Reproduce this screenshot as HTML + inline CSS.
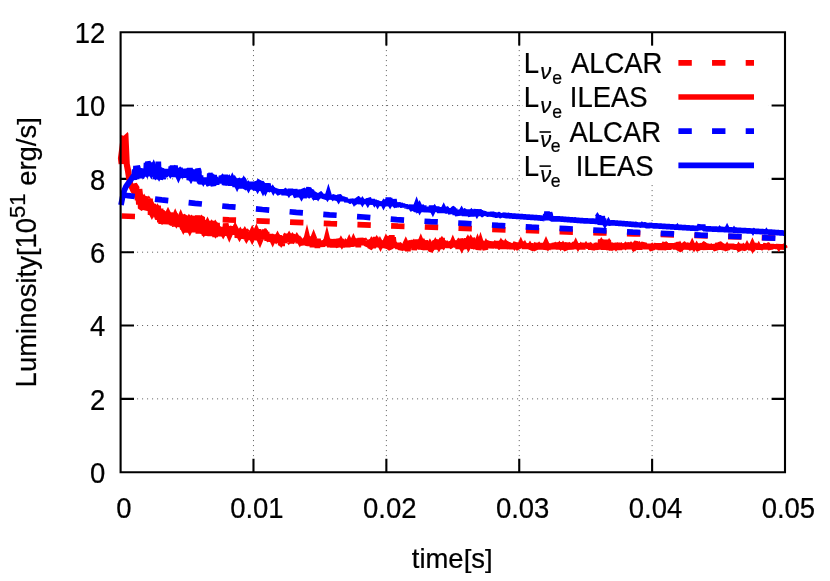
<!DOCTYPE html>
<html><head><meta charset="utf-8"><title>Luminosity</title>
<style>html,body{margin:0;padding:0;background:#fff}svg{display:block;will-change:transform}</style></head>
<body>
<svg width="830" height="581" viewBox="0 0 830 581">
<rect width="830" height="581" fill="#fff"/>
<g stroke="#000" stroke-opacity="0.62" stroke-width="1" stroke-dasharray="1.05 3.95" fill="none">
<path d="M253.48,472.20 V32.20" stroke-dashoffset="-1.1"/>
<path d="M386.36,472.20 V32.20" stroke-dashoffset="-1.1"/>
<path d="M519.24,472.20 V32.20" stroke-dashoffset="-1.1"/>
<path d="M652.12,472.20 V32.20" stroke-dashoffset="-1.1"/>
<path d="M120.60,398.87 H785.00" stroke-dashoffset="-1.45"/>
<path d="M120.60,325.53 H785.00" stroke-dashoffset="-1.45"/>
<path d="M120.60,252.20 H785.00" stroke-dashoffset="-1.45"/>
<path d="M120.60,178.87 H785.00" stroke-dashoffset="-1.45"/>
<path d="M120.60,105.53 H785.00" stroke-dashoffset="-1.45"/>
</g>
<g stroke="#000" stroke-width="2.1" fill="none" stroke-linecap="butt">
<path d="M253.48,472.20 v-13.40 M253.48,32.20 v13.40"/>
<path d="M386.36,472.20 v-13.40 M386.36,32.20 v13.40"/>
<path d="M519.24,472.20 v-13.40 M519.24,32.20 v13.40"/>
<path d="M652.12,472.20 v-13.40 M652.12,32.20 v13.40"/>
<path d="M120.60,398.87 h13.40 M785.00,398.87 h-13.40"/>
<path d="M120.60,325.53 h13.40 M785.00,325.53 h-13.40"/>
<path d="M120.60,252.20 h13.40 M785.00,252.20 h-13.40"/>
<path d="M120.60,178.87 h13.40 M785.00,178.87 h-13.40"/>
<path d="M120.60,105.53 h13.40 M785.00,105.53 h-13.40"/>
</g>
<g fill="none" stroke-width="5.70" stroke-linejoin="bevel" stroke-linecap="butt">
<path d="M121.6,216.0 L229.0,219.9 L263.0,221.1 L296.5,222.3 L330.5,223.6 L364.3,224.8 L398.0,226.1 L431.7,227.2 L465.4,228.4 L499.0,229.6 L532.6,230.7 L566.4,231.9 L600.2,232.8 L634.0,233.8 L667.5,234.7 L730.0,236.6 L785.3,238.3" stroke="#f00" stroke-dasharray="13.4 20.31"/>
<path d="M134.5,190.5 L136.0,191.5 L137.0,192.5 L137.6,200.2 L138.2,195.0 L138.9,204.6 L139.5,189.0 L140.1,193.8 L140.7,208.3 L141.3,208.1 L142.0,197.6 L142.6,201.3 L143.2,204.5 L143.8,196.1 L144.4,205.9 L145.1,196.5 L145.7,209.9 L146.3,208.9 L146.9,199.1 L147.5,210.1 L148.2,199.1 L148.8,205.7 L149.4,208.5 L150.0,198.5 L150.6,214.9 L151.3,204.0 L151.9,210.4 L152.5,210.2 L153.1,204.1 L153.7,210.5 L154.4,209.6 L155.0,215.3 L155.6,208.4 L156.2,217.2 L156.8,211.0 L157.5,219.0 L158.1,205.6 L158.7,215.9 L159.3,209.8 L159.9,222.4 L160.6,208.5 L161.2,224.0 L161.8,210.2 L162.4,217.0 L163.0,211.9 L163.7,224.0 L164.3,216.5 L164.9,211.5 L165.5,224.2 L166.1,215.9 L166.8,224.0 L167.4,211.8 L168.0,224.4 L168.6,213.2 L169.2,219.0 L169.9,222.6 L170.5,212.6 L171.1,217.9 L171.7,224.9 L172.3,221.7 L173.0,225.4 L173.6,218.6 L174.2,224.5 L174.8,226.1 L175.4,215.2 L176.1,215.6 L176.7,224.1 L177.3,216.1 L177.9,226.6 L178.5,224.7 L179.2,218.6 L179.8,222.3 L180.4,216.2 L181.0,226.5 L181.6,216.6 L182.3,226.9 L182.9,229.0 L183.5,223.4 L184.1,227.5 L184.7,216.7 L185.4,216.4 L186.0,221.0 L186.6,232.5 L187.2,218.6 L187.8,217.2 L188.5,232.3 L189.1,227.2 L189.7,220.5 L190.3,221.1 L190.9,230.6 L191.6,225.0 L192.2,230.1 L192.8,221.9 L193.4,228.1 L194.0,218.8 L194.7,232.3 L195.3,224.0 L195.9,220.5 L196.5,227.6 L197.1,230.8 L197.8,215.4 L198.4,233.6 L199.0,218.1 L199.6,228.7 L200.2,230.0 L200.9,216.3 L201.5,233.5 L202.1,217.0 L202.7,228.0 L203.3,233.7 L204.0,222.5 L204.6,235.7 L205.2,231.2 L205.8,227.7 L206.4,233.3 L207.1,221.7 L207.7,227.0 L208.3,225.6 L208.9,235.7 L209.5,223.1 L210.2,236.2 L210.8,224.6 L211.4,222.0 L212.0,229.1 L212.6,220.9 L213.3,230.6 L213.9,225.5 L214.5,222.1 L215.1,237.2 L215.7,223.5 L216.4,231.5 L217.0,223.0 L217.6,233.7 L218.2,227.1 L218.8,229.0 L219.5,233.6 L220.1,227.0 L220.7,236.4 L221.3,227.6 L221.9,235.5 L222.6,227.0 L223.2,233.6 L223.8,235.4 L224.4,229.2 L225.0,231.0 L225.7,223.5 L226.3,226.6 L226.9,235.6 L227.5,232.2 L228.1,231.6 L228.8,233.8 L229.4,233.0 L230.0,228.5 L230.6,226.6 L231.2,230.6 L231.9,227.9 L232.5,227.0 L233.1,232.1 L233.7,226.3 L234.3,234.8 L235.0,227.9 L235.6,233.5 L236.2,230.5 L236.8,228.4 L237.4,237.9 L238.1,230.6 L238.7,235.0 L239.3,233.7 L239.9,234.6 L240.5,230.2 L241.2,238.8 L241.8,232.2 L242.4,236.0 L243.0,230.1 L243.6,233.3 L244.3,229.2 L244.9,235.0 L245.5,231.2 L246.1,239.0 L246.7,231.9 L247.4,235.5 L248.0,239.6 L248.6,232.1 L249.2,237.8 L249.8,232.2 L250.5,235.2 L251.1,239.9 L251.7,231.0 L252.3,234.3 L252.9,238.8 L253.6,231.5 L254.2,236.0 L254.8,233.7 L255.4,239.6 L256.0,232.6 L256.7,239.2 L257.3,229.3 L257.9,240.4 L258.5,229.2 L259.1,238.7 L259.8,230.8 L260.4,239.5 L261.0,232.8 L261.6,239.1 L262.2,234.8 L262.9,237.1 L263.5,238.3 L264.1,235.2 L264.7,231.2 L265.3,231.2 L266.0,237.4 L266.6,232.0 L267.2,240.7 L267.8,235.5 L268.4,238.3 L269.1,234.0 L269.7,241.4 L270.3,239.4 L270.9,237.6 L271.5,240.6 L272.2,235.5 L272.8,241.9 L273.4,234.5 L274.0,240.9 L274.6,236.1 L275.3,242.6 L275.9,239.8 L276.5,238.3 L277.1,234.6 L277.7,242.3 L278.4,235.3 L279.0,242.7 L279.6,236.9 L280.2,237.6 L280.8,245.3 L281.5,238.2 L282.1,246.1 L282.7,236.6 L283.3,239.3 L283.9,237.5 L284.6,243.1 L285.2,236.3 L285.8,239.3 L286.4,233.8 L287.0,241.4 L287.7,237.3 L288.3,238.0 L288.9,241.4 L289.5,236.9 L290.1,240.9 L290.8,234.5 L291.4,243.5 L292.0,236.1 L292.6,234.4 L293.2,240.4 L293.9,236.3 L294.5,240.8 L295.1,238.1 L295.7,240.1 L296.3,238.0 L297.0,241.1 L297.6,235.9 L298.2,243.2 L298.8,238.5 L299.4,239.1 L300.1,242.5 L300.7,241.2 L301.3,241.5 L301.9,240.8 L302.5,243.3 L303.2,244.7 L303.8,238.9 L304.4,245.2 L305.0,240.0 L305.6,242.3 L306.3,239.5 L306.9,245.2 L307.5,239.9 L308.1,245.6 L308.7,238.2 L309.4,245.9 L310.0,237.6 L310.6,238.3 L311.2,243.8 L311.8,242.1 L312.5,247.1 L313.1,238.2 L313.7,242.4 L314.3,245.8 L314.9,239.9 L315.6,242.1 L316.2,245.7 L316.8,239.1 L317.4,248.1 L318.0,238.8 L318.7,246.7 L319.3,240.8 L319.9,245.7 L320.5,241.5 L321.1,242.5 L321.8,244.0 L322.4,246.6 L323.0,241.5 L323.6,245.7 L324.2,241.3 L324.9,244.7 L325.5,241.6 L326.1,239.8 L326.7,242.3 L327.3,245.9 L328.0,239.9 L328.6,244.7 L329.2,240.7 L329.8,247.3 L330.4,240.8 L331.1,246.9 L331.7,239.5 L332.3,241.7 L332.9,247.4 L333.5,241.8 L334.2,244.4 L334.8,239.6 L335.4,244.0 L336.0,244.7 L336.6,239.3 L337.3,241.2 L337.9,245.8 L338.5,246.9 L339.1,238.6 L339.7,245.4 L340.4,240.9 L341.0,244.4 L341.6,239.0 L342.2,247.4 L342.8,241.8 L343.5,247.0 L344.1,240.8 L344.7,246.9 L345.3,242.5 L345.9,243.6 L346.6,244.5 L347.2,242.7 L347.8,246.9 L348.4,244.0 L349.0,240.0 L349.7,246.4 L350.3,240.2 L350.9,246.7 L351.5,241.8 L352.1,243.8 L352.8,239.3 L353.4,243.6 L354.0,238.9 L354.6,245.5 L355.2,242.7 L355.9,244.2 L356.5,245.6 L357.1,238.6 L357.7,241.2 L358.3,247.3 L359.0,238.4 L359.6,244.8 L360.2,238.1 L360.8,245.2 L361.4,238.3 L362.1,242.0 L362.7,238.3 L363.3,243.5 L363.9,241.2 L364.5,243.3 L365.2,243.3 L365.8,243.6 L366.4,242.4 L367.0,245.7 L367.6,241.9 L368.3,246.5 L368.9,245.1 L369.5,240.2 L370.1,247.7 L370.7,247.4 L371.4,239.5 L372.0,247.7 L372.6,242.4 L373.2,247.6 L373.8,245.7 L374.5,237.8 L375.1,247.3 L375.7,237.0 L376.3,245.4 L376.9,239.4 L377.6,247.0 L378.2,240.7 L378.8,244.6 L379.4,246.9 L380.0,242.8 L380.7,240.7 L381.3,246.1 L381.9,247.5 L382.5,241.6 L383.1,245.9 L383.8,247.0 L384.4,241.1 L385.0,247.5 L385.6,246.7 L386.2,241.8 L386.9,247.5 L387.5,239.0 L388.1,243.2 L388.7,245.1 L389.3,235.9 L390.0,248.1 L390.6,248.5 L391.2,243.4 L391.8,235.3 L392.4,244.7 L393.1,237.2 L393.7,242.5 L394.3,242.8 L394.9,246.6 L395.5,245.5 L396.2,246.7 L396.8,244.2 L397.4,243.2 L398.0,249.0 L398.6,242.9 L399.3,248.9 L399.9,243.5 L400.5,249.6 L401.1,248.6 L401.7,245.1 L402.4,249.4 L403.0,244.2 L403.6,247.8 L404.2,249.4 L404.8,244.4 L405.5,248.3 L406.1,242.1 L406.7,250.5 L407.3,241.9 L407.9,251.2 L408.6,243.8 L409.2,246.3 L409.8,243.4 L410.4,247.1 L411.0,240.5 L411.7,248.1 L412.3,240.9 L412.9,246.8 L413.5,239.9 L414.1,250.2 L414.8,240.2 L415.4,245.1 L416.0,240.2 L416.6,241.8 L417.2,248.7 L417.9,239.5 L418.5,248.6 L419.1,244.5 L419.7,242.0 L420.3,249.6 L421.0,241.1 L421.6,249.3 L422.2,247.9 L422.8,244.5 L423.4,249.1 L424.1,244.8 L424.7,248.8 L425.3,240.4 L425.9,244.9 L426.5,246.8 L427.2,249.6 L427.8,242.3 L428.4,249.9 L429.0,243.4 L429.6,242.6 L430.3,249.1 L430.9,249.8 L431.5,249.7 L432.1,243.1 L432.7,248.3 L433.4,246.2 L434.0,244.4 L434.6,241.3 L435.2,241.6 L435.8,249.5 L436.5,244.2 L437.1,248.1 L437.7,239.4 L438.3,243.9 L438.9,246.5 L439.6,239.5 L440.2,248.3 L440.8,241.2 L441.4,249.1 L442.0,237.9 L442.7,247.0 L443.3,240.4 L443.9,247.0 L444.5,241.8 L445.1,246.4 L445.8,244.3 L446.4,247.3 L447.0,242.8 L447.6,245.9 L448.2,246.9 L448.9,245.5 L449.5,242.5 L450.1,243.0 L450.7,246.3 L451.3,246.4 L452.0,242.4 L452.6,243.5 L453.2,245.7 L453.8,243.6 L454.4,246.5 L455.1,241.8 L455.7,247.2 L456.3,241.6 L456.9,247.4 L457.5,240.4 L458.2,248.9 L458.8,244.5 L459.4,246.3 L460.0,248.0 L460.6,238.9 L461.3,241.3 L461.9,240.1 L462.5,249.2 L463.1,245.0 L463.7,248.9 L464.4,241.1 L465.0,243.9 L465.6,248.3 L466.2,241.2 L466.8,238.5 L467.5,248.5 L468.1,244.1 L468.7,239.0 L469.3,237.7 L469.9,243.9 L470.6,241.3 L471.2,247.2 L471.8,244.1 L472.4,238.5 L473.0,239.6 L473.7,248.9 L474.3,243.3 L474.9,244.4 L475.5,246.8 L476.1,247.0 L476.8,242.3 L477.4,249.2 L478.0,243.8 L478.6,249.6 L479.2,247.8 L479.9,242.5 L480.5,246.7 L481.1,242.2 L481.7,246.6 L482.3,242.5 L483.0,242.1 L483.6,249.2 L484.2,243.5 L484.8,248.3 L485.4,249.6 L486.1,242.1 L486.7,247.3 L487.3,242.6 L487.9,242.3 L488.5,245.8 L489.2,242.9 L489.8,242.4 L490.4,248.0 L491.0,242.8 L491.6,248.3 L492.3,243.6 L492.9,242.0 L493.5,246.5 L494.1,244.2 L494.7,245.9 L495.4,242.2 L496.0,247.7 L496.6,246.0 L497.2,241.1 L497.8,248.5 L498.5,242.2 L499.1,247.2 L499.7,247.3 L500.3,241.5 L500.9,248.9 L501.6,242.4 L502.2,242.0 L502.8,241.7 L503.4,247.5 L504.0,244.3 L504.7,248.8 L505.3,242.1 L505.9,247.4 L506.5,242.8 L507.1,242.5 L507.8,248.9 L508.4,242.9 L509.0,245.2 L509.6,249.0 L510.2,243.6 L510.9,246.2 L511.5,244.0 L512.1,246.1 L512.7,244.0 L513.3,249.0 L514.0,245.6 L514.6,248.4 L515.2,243.9 L515.8,243.2 L516.4,247.2 L517.1,243.5 L517.7,247.9 L518.3,248.2 L518.9,243.8 L519.5,246.3 L520.2,243.3 L520.8,247.6 L521.4,243.8 L522.0,246.8 L522.6,245.7 L523.3,244.0 L523.9,244.0 L524.5,248.8 L525.1,243.6 L525.7,248.9 L526.4,243.6 L527.0,248.7 L527.6,246.2 L528.2,246.8 L528.8,243.8 L529.5,247.5 L530.1,243.4 L530.7,249.0 L531.3,248.5 L531.9,244.7 L532.6,248.7 L533.2,245.6 L533.8,247.1 L534.4,245.4 L535.0,248.8 L535.7,249.3 L536.3,242.9 L536.9,248.2 L537.5,243.2 L538.1,249.4 L538.8,244.0 L539.4,248.9 L540.0,243.8 L540.6,247.4 L541.2,244.6 L541.9,249.2 L542.5,243.0 L543.1,248.6 L543.7,245.3 L544.3,248.9 L545.0,243.0 L545.6,249.4 L546.2,248.0 L546.8,245.9 L547.4,244.5 L548.1,249.1 L548.7,247.7 L549.3,245.5 L549.9,247.8 L550.5,243.7 L551.2,249.3 L551.8,243.5 L552.4,249.0 L553.0,243.6 L553.6,249.2 L554.3,243.1 L554.9,248.8 L555.5,242.9 L556.1,247.5 L556.7,244.5 L557.4,248.7 L558.0,242.6 L558.6,249.5 L559.2,243.9 L559.8,249.0 L560.5,242.3 L561.1,246.5 L561.7,242.7 L562.3,249.3 L562.9,247.9 L563.6,242.8 L564.2,246.2 L564.8,243.9 L565.4,248.7 L566.0,249.1 L566.7,245.4 L567.3,246.5 L567.9,242.8 L568.5,249.0 L569.1,246.0 L569.8,249.3 L570.4,244.7 L571.0,249.5 L571.6,243.7 L572.2,248.5 L572.9,244.3 L573.5,244.3 L574.1,246.4 L574.7,248.9 L575.3,243.6 L576.0,247.7 L576.6,246.5 L577.2,243.3 L577.8,248.5 L578.4,243.8 L579.1,247.5 L579.7,243.5 L580.3,249.0 L580.9,244.3 L581.5,249.5 L582.2,243.4 L582.8,249.4 L583.4,245.3 L584.0,243.3 L584.6,247.0 L585.3,243.4 L585.9,247.3 L586.5,244.9 L587.1,247.7 L587.7,243.4 L588.4,245.4 L589.0,248.3 L589.6,244.7 L590.2,245.3 L590.8,249.6 L591.5,244.4 L592.1,249.5 L592.7,248.2 L593.3,246.0 L593.9,247.8 L594.6,244.3 L595.2,245.8 L595.8,249.7 L596.4,242.9 L597.0,249.2 L597.7,246.2 L598.3,249.1 L598.9,244.2 L599.5,248.9 L600.1,246.1 L600.8,239.5 L601.4,247.5 L602.0,244.3 L602.6,247.0 L603.2,242.7 L603.9,249.8 L604.5,243.9 L605.1,248.3 L605.7,239.8 L606.3,247.9 L607.0,241.5 L607.6,249.6 L608.2,240.0 L608.8,250.0 L609.4,245.8 L610.1,249.5 L610.7,248.6 L611.3,249.4 L611.9,244.3 L612.5,247.4 L613.2,243.2 L613.8,248.0 L614.4,249.3 L615.0,247.1 L615.6,248.8 L616.3,244.9 L616.9,249.8 L617.5,242.8 L618.1,249.1 L618.7,243.1 L619.4,249.8 L620.0,245.9 L620.6,243.7 L621.2,247.3 L621.8,249.0 L622.5,245.2 L623.1,246.2 L623.7,245.9 L624.3,247.7 L624.9,245.7 L625.6,248.3 L626.2,243.3 L626.8,244.4 L627.4,249.1 L628.0,243.3 L628.7,246.7 L629.3,242.7 L629.9,247.6 L630.5,244.9 L631.1,247.9 L631.8,242.8 L632.4,249.2 L633.0,242.7 L633.6,249.0 L634.2,248.5 L634.9,249.5 L635.5,243.3 L636.1,242.9 L636.7,243.7 L637.3,249.5 L638.0,244.8 L638.6,249.4 L639.2,246.0 L639.8,249.6 L640.4,246.3 L641.1,248.1 L641.7,244.6 L642.3,244.5 L642.9,247.1 L643.5,244.1 L644.2,243.0 L644.8,247.9 L645.4,244.7 L646.0,249.1 L646.6,244.5 L647.3,248.6 L647.9,244.6 L648.5,248.3 L649.1,246.0 L649.7,244.0 L650.4,247.7 L651.0,247.7 L651.6,249.0 L652.2,249.7 L652.8,244.2 L653.5,247.3 L654.1,246.8 L654.7,245.4 L655.3,246.5 L655.9,245.8 L656.6,243.5 L657.2,248.9 L657.8,245.8 L658.4,249.4 L659.0,243.2 L659.7,247.5 L660.3,249.5 L660.9,245.7 L661.5,244.4 L662.1,247.5 L662.8,243.8 L663.4,249.8 L664.0,247.2 L664.6,243.3 L665.2,243.9 L665.9,244.7 L666.5,243.2 L667.1,249.5 L667.7,245.9 L668.3,249.6 L669.0,244.1 L669.6,249.2 L670.2,244.8 L670.8,248.3 L671.4,243.4 L672.1,248.0 L672.7,243.4 L673.3,246.8 L673.9,243.9 L674.5,246.6 L675.2,245.2 L675.8,249.3 L676.4,243.4 L677.0,244.1 L677.6,249.0 L678.3,248.7 L678.9,243.8 L679.5,249.5 L680.1,249.4 L680.7,249.4 L681.4,245.0 L682.0,246.9 L682.6,245.3 L683.2,248.9 L683.8,244.0 L684.5,244.1 L685.1,249.4 L685.7,245.0 L686.3,249.1 L686.9,246.0 L687.6,249.0 L688.2,247.4 L688.8,244.7 L689.4,243.4 L690.0,249.8 L690.7,244.0 L691.3,248.1 L691.9,247.1 L692.5,243.4 L693.1,248.9 L693.8,244.3 L694.4,248.1 L695.0,246.8 L695.6,246.6 L696.2,247.5 L696.9,248.0 L697.5,243.6 L698.1,249.1 L698.7,249.5 L699.3,244.0 L700.0,249.6 L700.6,245.7 L701.2,249.5 L701.8,245.3 L702.4,244.2 L703.1,248.0 L703.7,244.0 L704.3,243.9 L704.9,246.6 L705.5,249.7 L706.2,245.0 L706.8,244.0 L707.4,249.3 L708.0,244.0 L708.6,249.6 L709.3,244.9 L709.9,247.8 L710.5,244.6 L711.1,249.5 L711.7,245.1 L712.4,247.5 L713.0,246.1 L713.6,246.9 L714.2,244.6 L714.8,246.2 L715.5,249.0 L716.1,249.6 L716.7,245.7 L717.3,249.6 L717.9,243.9 L718.6,244.4 L719.2,245.4 L719.8,249.7 L720.4,244.0 L721.0,244.0 L721.7,249.2 L722.3,248.2 L722.9,246.6 L723.5,244.9 L724.1,249.0 L724.8,245.7 L725.4,249.1 L726.0,244.8 L726.6,249.0 L727.2,249.7 L727.9,244.0 L728.5,248.6 L729.1,244.2 L729.7,249.1 L730.3,244.9 L731.0,247.9 L731.6,244.0 L732.2,247.0 L732.8,248.4 L733.4,244.5 L734.1,249.1 L734.7,245.3 L735.3,249.2 L735.9,245.0 L736.5,249.7 L737.2,244.3 L737.8,247.7 L738.4,246.2 L739.0,249.3 L739.6,249.6 L740.3,246.1 L740.9,244.4 L741.5,247.7 L742.1,244.0 L742.7,249.7 L743.4,248.6 L744.0,245.4 L744.6,247.1 L745.2,245.2 L745.8,247.9 L746.5,248.1 L747.1,246.5 L747.7,247.8 L748.3,245.8 L748.9,248.9 L749.6,244.1 L750.2,247.9 L750.8,249.6 L751.4,245.5 L752.0,249.6 L752.7,249.2 L753.3,248.6 L753.9,244.2 L754.5,245.1 L755.1,244.1 L755.8,248.8 L756.4,244.8 L757.0,245.5 L757.6,248.8 L758.2,244.6 L758.9,249.6 L759.5,244.2 L760.1,249.5 L760.7,244.2 L761.3,248.5 L762.0,244.7 L762.6,247.5 L763.2,245.2 L763.8,246.9 L764.4,245.6 L765.1,249.3 L765.7,245.2 L766.3,244.1 L766.9,249.1 L767.5,244.8 L768.2,245.2 L768.8,247.3 L769.4,245.0 L770.0,247.9 L770.6,249.2 L771.3,244.1 L771.9,248.5 L772.5,244.6 L773.1,247.1 L773.7,246.1 L774.4,247.8 L775.0,244.3 L775.6,248.4 L776.2,245.9 L776.8,246.5 L777.5,248.1 L778.1,246.7 L778.7,244.5 L779.3,248.0 L779.9,244.4 L780.6,248.6 L781.2,244.5 L781.8,249.5 L782.4,244.5 L783.0,249.3 L783.7,246.4 L784.3,246.3 L784.9,248.4" stroke="#f00"/>
<path d="M164.6,213.8 L168.0,206.7 L171.4,213.8 Z M171.5,216.4 L175.2,208.3 L178.9,216.4 Z M176.9,218.1 L180.7,208.9 L184.5,218.1 Z M248.5,232.8 L252.2,224.7 L255.9,232.8 Z M252.7,231.6 L256.4,223.5 L260.1,231.6 Z M263.2,233.1 L266.0,228.0 L268.8,233.1 Z M274.4,236.4 L277.5,230.4 L280.6,236.4 Z M303.2,239.8 L307.0,224.1 L310.8,239.8 Z M309.8,238.7 L313.6,229.1 L317.4,238.7 Z M323.1,241.1 L326.9,225.5 L330.7,241.1 Z M345.7,241.5 L349.2,233.9 L352.7,241.5 Z M349.8,240.9 L353.4,233.0 L357.0,240.9 Z M377.0,241.4 L379.9,236.1 L382.8,241.4 Z M382.2,241.4 L385.9,233.3 L389.6,241.4 Z M402.4,243.4 L405.8,236.3 L409.2,243.4 Z M417.0,242.4 L420.8,233.3 L424.6,242.4 Z M432.1,243.2 L435.3,236.9 L438.5,243.2 Z M439.3,239.8 L441.9,235.7 L444.5,239.8 Z M449.0,243.5 L452.8,234.5 L456.6,243.5 Z M473.7,243.4 L477.5,233.3 L481.3,243.4 Z M476.7,243.8 L480.5,231.7 L484.3,243.8 Z M482.8,244.1 L485.9,238.1 L489.0,244.1 Z M517.0,245.0 L520.8,236.6 L524.6,245.0 Z M542.2,244.6 L546.0,236.0 L549.8,244.6 Z M572.1,244.9 L575.7,237.2 L579.3,244.9 Z M628.6,244.6 L631.0,241.0 L633.4,244.6 Z M660.5,245.0 L663.0,241.0 L665.5,245.0 Z M677.3,245.1 L680.0,240.4 L682.7,245.1 Z M688.7,245.2 L692.2,237.6 L695.7,245.2 Z M724.5,245.6 L727.1,241.4 L729.7,245.6 Z M735.9,245.7 L738.5,241.4 L741.1,245.7 Z M741.1,245.7 L743.4,242.4 L745.7,245.7 Z M748.6,245.7 L752.4,237.2 L756.2,245.7 Z M527.4,244.8 L530.0,240.6 L532.6,244.8 Z M560.5,244.2 L563.0,240.4 L565.5,244.2 Z M583.5,244.9 L586.0,240.8 L588.5,244.9 Z M713.6,245.6 L716.0,242.0 L718.4,245.6 Z M765.5,245.7 L768.0,241.8 L770.5,245.7 Z M301.2,240.3 L303.5,237.2 L305.7,240.3 Z M328.6,241.1 L330.9,238.2 L333.1,241.1 Z M338.1,240.5 L340.9,235.3 L343.8,240.5 Z M343.0,242.2 L345.5,238.1 L348.1,242.2 Z M363.7,240.2 L365.9,237.3 L368.1,240.2 Z M368.4,241.5 L371.3,236.1 L374.2,241.5 Z M373.6,240.6 L376.7,234.8 L379.7,240.6 Z M398.3,244.8 L400.4,242.0 L402.6,244.8 Z M407.8,242.3 L410.0,239.7 L412.1,242.3 Z M411.6,241.8 L413.9,238.5 L416.2,241.8 Z M420.9,243.6 L423.9,237.8 L427.0,243.6 Z M426.8,244.0 L429.9,238.2 L432.9,244.0 Z M444.8,243.1 L447.1,239.9 L449.4,243.1 Z M456.0,240.8 L458.3,237.6 L460.6,240.8 Z M464.8,240.1 L467.9,234.3 L470.9,240.1 Z M468.0,238.9 L470.7,234.3 L473.4,238.9 Z M492.8,242.4 L494.8,239.9 L496.9,242.4 Z M497.8,243.3 L500.9,237.5 L503.9,243.3 Z M502.4,244.1 L505.4,238.3 L508.4,244.1 Z M515.2,244.9 L517.3,242.2 L519.5,244.9 Z M522.1,245.1 L524.9,239.8 L527.8,245.1 Z M532.6,244.4 L534.8,241.8 L536.9,244.4 Z M536.9,244.4 L539.1,241.3 L541.4,244.4 Z M552.9,244.6 L555.2,241.6 L557.4,244.6 Z M556.9,244.4 L559.4,240.4 L561.9,244.4 Z M567.0,244.7 L569.3,241.7 L571.5,244.7 Z M578.4,245.1 L580.7,241.6 L583.1,245.1 Z M588.5,244.6 L590.7,241.7 L593.0,244.6 Z M593.9,244.7 L596.0,242.1 L598.1,244.7 Z M598.8,241.0 L601.3,237.0 L603.8,241.0 Z M606.1,243.6 L609.1,237.8 L612.1,243.6 Z M610.4,245.1 L612.6,242.3 L614.8,245.1 Z M615.4,244.6 L617.5,242.2 L619.5,244.6 Z M619.3,244.4 L621.4,242.0 L623.5,244.4 Z M623.1,244.5 L625.4,241.2 L627.7,244.5 Z M636.9,244.8 L639.5,240.7 L642.0,244.8 Z M650.0,245.0 L652.2,242.2 L654.3,245.0 Z M664.9,245.1 L667.1,242.3 L669.3,245.1 Z M674.4,245.1 L676.9,241.5 L679.3,245.1 Z M693.9,245.3 L696.6,240.4 L699.4,245.3 Z M703.2,245.6 L705.6,242.1 L708.0,245.6 Z M709.2,245.6 L711.3,243.1 L713.4,245.6 Z M721.7,245.6 L723.9,242.9 L726.1,245.6 Z M744.0,245.7 L747.0,239.9 L750.1,245.7 Z M756.0,245.7 L758.7,240.8 L761.5,245.7 Z M761.6,245.7 L763.9,242.7 L766.1,245.7 Z M141.5,197.8 L144.1,193.4 L146.7,197.8 Z M146.5,198.8 L148.8,195.6 L151.1,198.8 Z M149.2,204.6 L152.1,199.3 L154.9,204.6 Z M155.0,206.7 L157.4,203.3 L159.7,206.7 Z M162.0,213.2 L164.2,210.4 L166.4,213.2 Z M186.4,217.6 L188.9,213.7 L191.4,217.6 Z M189.3,217.3 L191.5,214.6 L193.6,217.3 Z M199.4,217.3 L201.6,214.5 L203.7,217.3 Z M201.6,223.9 L204.6,218.4 L207.5,223.9 Z M204.2,223.3 L207.5,216.5 L210.8,223.3 Z M209.2,222.8 L211.6,219.3 L214.0,222.8 Z M213.0,222.9 L215.3,219.6 L217.6,222.9 Z M231.8,228.1 L235.1,221.4 L238.4,228.1 Z M237.5,231.6 L240.3,226.6 L243.1,231.6 Z M242.1,230.5 L244.8,225.9 L247.5,230.5 Z M245.4,231.6 L247.7,228.3 L250.0,231.6 Z M260.6,231.6 L262.8,228.8 L265.0,231.6 Z M270.6,236.1 L272.8,233.2 L275.1,236.1 Z M282.4,235.8 L284.7,232.5 L287.0,235.8 Z M286.4,235.2 L289.1,230.4 L291.9,235.2 Z M289.9,235.8 L292.4,231.9 L294.9,235.8 Z M294.3,236.1 L296.8,232.1 L299.3,236.1 Z M173.8,224.5 L176.4,228.8 L179.0,224.5 Z M225.5,234.1 L229.3,242.8 L233.1,234.1 Z M236.6,237.0 L239.5,242.2 L242.4,237.0 Z M248.9,238.4 L252.2,245.2 L255.5,238.4 Z M256.2,239.2 L260.0,248.2 L263.8,239.2 Z M269.3,240.4 L272.7,247.6 L276.1,240.4 Z M296.9,242.2 L299.8,247.6 L302.7,242.2 Z M339.3,245.5 L341.9,249.8 L344.5,245.5 Z M377.3,245.4 L380.5,252.0 L383.7,245.4 Z M429.4,247.8 L432.3,253.2 L435.2,247.8 Z M436.1,247.4 L438.9,252.6 L441.7,247.4 Z M458.6,247.2 L461.8,253.8 L465.0,247.2 Z M465.4,247.0 L468.4,252.6 L471.4,247.0 Z M631.0,247.9 L633.7,252.6 L636.4,247.9 Z M679.4,248.0 L682.0,252.2 L684.6,248.0 Z M691.4,248.0 L694.0,252.4 L696.6,248.0 Z M749.5,248.0 L752.6,254.0 L755.7,248.0 Z M545.5,247.5 L548.0,251.6 L550.5,247.5 Z M575.4,247.7 L578.0,252.0 L580.6,247.7 Z M613.5,247.8 L616.0,251.8 L618.5,247.8 Z M385.1,245.8 L387.7,250.1 L390.3,245.8 Z M401.2,247.3 L403.6,250.7 L406.0,247.3 Z M426.8,247.8 L428.9,250.6 L431.1,247.8 Z M441.3,246.8 L443.7,250.5 L446.2,246.8 Z M471.3,246.8 L473.5,249.7 L475.8,246.8 Z M512.1,247.3 L514.5,251.1 L517.0,247.3 Z M541.9,247.5 L544.0,250.1 L546.1,247.5 Z M558.2,247.6 L560.6,251.3 L563.0,247.6 Z M623.4,247.9 L625.5,250.4 L627.6,247.9 Z M687.6,248.0 L689.9,251.2 L692.2,248.0 Z M697.6,248.0 L699.8,250.6 L701.9,248.0 Z M736.4,248.0 L738.5,250.8 L740.7,248.0 Z M759.8,248.0 L762.0,251.0 L764.3,248.0 Z M776.2,248.0 L778.8,252.3 L781.4,248.0 Z M148.7,213.8 L151.9,220.1 L155.1,213.8 Z M159.9,222.4 L162.1,225.0 L164.2,222.4 Z M180.2,228.8 L183.3,235.1 L186.5,228.8 Z M186.6,230.3 L189.8,236.6 L192.9,230.3 Z M201.3,234.0 L203.7,237.5 L206.1,234.0 Z M213.1,235.1 L215.5,238.7 L217.9,235.1 Z M220.5,234.7 L223.2,239.5 L225.9,234.7 Z M243.6,239.2 L246.4,244.0 L249.1,239.2 Z M265.1,239.3 L267.4,242.6 L269.8,239.3 Z M273.8,241.3 L276.1,244.5 L278.4,241.3 Z M278.7,243.9 L281.2,247.9 L283.7,243.9 Z M286.6,242.6 L288.7,245.2 L290.9,242.6 Z M291.2,240.7 L293.6,244.2 L296.0,240.7 Z" fill="#f00" stroke="none"/>
<path d="M117.9,158.2 L121.0,134.9 L123.6,135.8 L127.7,132.1 L128.4,133.6 L129.8,163.8 L131.4,171.5 L132.2,179.3 L133.2,183.6 L136.7,182.7 L139.5,187 L138,200 L135.5,199.3 L130.7,192 L128,186 L126.2,179.3 L125.0,171.5 L123.6,164.0 L118.6,164.2 Z" fill="#f00" stroke="none"/>
<path d="M121.5,194.5 L128.2,195.7 L161.7,199.9 L195.2,203.3 L228.7,206.6 L262.4,209.5 L296.2,212.3 L329.5,214.8 L363.5,217.0 L396.7,219.6 L430.5,221.6 L464.5,223.3 L498.0,225.4 L531.7,227.2 L565.4,228.6 L599.5,230.4 L632.8,232.2 L666.5,233.6 L700.5,235.2 L733.9,236.3 L767.6,237.8 L785.3,238.5" stroke="#00f" stroke-dasharray="13.4 20.4"/>
<path d="M121.0,205.0 L122.3,198.5 L124.0,191.0 L126.0,186.5 L128.5,183.0 L131.0,179.6 L133.5,176.0 L134.1,179.8 L134.7,169.5 L135.4,177.4 L136.0,166.0 L136.6,179.2 L137.2,166.0 L137.8,167.5 L138.5,178.0 L139.1,175.2 L139.7,168.4 L140.3,173.2 L140.9,172.0 L141.6,177.1 L142.2,176.5 L142.8,168.8 L143.4,174.8 L144.0,170.1 L144.7,176.4 L145.3,170.7 L145.9,175.5 L146.5,163.0 L147.1,170.9 L147.8,161.7 L148.4,163.5 L149.0,171.2 L149.6,168.0 L150.2,173.7 L150.9,162.5 L151.5,176.1 L152.1,170.3 L152.7,173.1 L153.3,169.8 L154.0,175.3 L154.6,172.9 L155.2,164.8 L155.8,179.2 L156.4,175.2 L157.1,168.3 L157.7,178.1 L158.3,161.5 L158.9,179.3 L159.5,167.3 L160.2,179.0 L160.8,177.8 L161.4,168.8 L162.0,170.6 L162.6,172.2 L163.3,177.5 L163.9,177.0 L164.5,172.9 L165.1,177.1 L165.7,169.3 L166.4,175.2 L167.0,168.9 L167.6,175.7 L168.2,172.3 L168.8,175.0 L169.5,170.7 L170.1,171.9 L170.7,172.2 L171.3,166.6 L171.9,176.8 L172.6,165.4 L173.2,176.6 L173.8,166.4 L174.4,177.2 L175.0,165.5 L175.7,171.8 L176.3,175.4 L176.9,172.0 L177.5,176.2 L178.1,174.8 L178.8,170.0 L179.4,177.5 L180.0,167.9 L180.6,173.8 L181.2,177.8 L181.9,168.9 L182.5,175.9 L183.1,176.0 L183.7,173.0 L184.3,177.5 L185.0,168.9 L185.6,176.4 L186.2,168.8 L186.8,171.8 L187.4,172.4 L188.1,175.7 L188.7,168.4 L189.3,180.1 L189.9,167.8 L190.5,180.4 L191.2,174.7 L191.8,174.4 L192.4,175.2 L193.0,169.3 L193.6,180.0 L194.3,177.5 L194.9,173.1 L195.5,171.7 L196.1,181.4 L196.7,176.3 L197.4,173.0 L198.0,169.0 L198.6,170.2 L199.2,177.4 L199.8,183.2 L200.5,175.5 L201.1,184.4 L201.7,179.6 L202.3,183.7 L202.9,179.2 L203.6,182.5 L204.2,177.6 L204.8,180.2 L205.4,182.0 L206.0,182.5 L206.7,179.7 L207.3,183.6 L207.9,177.5 L208.5,184.2 L209.1,184.9 L209.8,173.4 L210.4,175.0 L211.0,173.9 L211.6,183.9 L212.2,174.6 L212.9,184.1 L213.5,185.9 L214.1,174.9 L214.7,183.0 L215.3,178.5 L216.0,179.3 L216.6,184.7 L217.2,178.3 L217.8,182.4 L218.4,179.3 L219.1,181.6 L219.7,179.5 L220.3,183.3 L220.9,178.9 L221.5,176.2 L222.2,177.5 L222.8,180.3 L223.4,183.1 L224.0,178.6 L224.6,185.1 L225.3,174.6 L225.9,185.4 L226.5,181.8 L227.1,175.5 L227.7,183.2 L228.4,181.9 L229.0,185.2 L229.6,178.0 L230.2,181.4 L230.8,185.6 L231.5,178.9 L232.1,185.6 L232.7,180.2 L233.3,184.4 L233.9,178.1 L234.6,184.3 L235.2,186.4 L235.8,183.9 L236.4,178.7 L237.0,187.1 L237.7,179.4 L238.3,180.0 L238.9,184.6 L239.5,187.8 L240.1,180.7 L240.8,188.4 L241.4,181.5 L242.0,178.8 L242.6,181.3 L243.2,179.5 L243.9,179.9 L244.5,187.9 L245.1,187.6 L245.7,181.9 L246.3,187.9 L247.0,181.8 L247.6,189.4 L248.2,182.3 L248.8,187.1 L249.4,183.0 L250.1,189.1 L250.7,182.0 L251.3,187.5 L251.9,181.9 L252.5,186.4 L253.2,184.8 L253.8,182.9 L254.4,189.5 L255.0,188.1 L255.6,189.9 L256.3,183.9 L256.9,189.7 L257.5,181.2 L258.1,190.9 L258.7,181.7 L259.4,181.3 L260.0,187.2 L260.6,183.7 L261.2,190.5 L261.8,183.3 L262.5,183.6 L263.1,187.4 L263.7,190.9 L264.3,183.7 L264.9,191.5 L265.6,184.4 L266.2,191.3 L266.8,183.1 L267.4,191.7 L268.0,183.4 L268.7,191.2 L269.3,186.3 L269.9,189.7 L270.5,189.9 L271.1,187.4 L271.8,189.3 L272.4,189.0 L273.0,189.0 L273.6,190.1 L274.2,190.3 L274.9,190.5 L275.5,190.6 L276.1,190.7 L276.7,190.4 L277.3,191.5 L278.0,189.6 L278.6,193.0 L279.2,193.4 L279.8,189.9 L280.4,192.9 L281.1,189.6 L281.7,192.6 L282.3,189.6 L282.9,193.4 L283.5,190.5 L284.2,195.1 L284.8,190.5 L285.4,190.6 L286.0,194.3 L286.6,189.5 L287.3,193.2 L287.9,190.3 L288.5,195.5 L289.1,190.9 L289.7,194.4 L290.4,188.9 L291.0,194.1 L291.6,190.9 L292.2,194.8 L292.8,190.2 L293.5,193.3 L294.1,192.9 L294.7,189.4 L295.3,192.0 L295.9,195.7 L296.6,196.6 L297.2,189.7 L297.8,197.1 L298.4,193.1 L299.0,194.6 L299.7,192.9 L300.3,189.9 L300.9,196.7 L301.5,189.5 L302.1,197.0 L302.8,189.8 L303.4,190.3 L304.0,198.1 L304.6,192.8 L305.2,194.0 L305.9,192.7 L306.5,197.1 L307.1,193.5 L307.7,197.1 L308.3,189.7 L309.0,189.3 L309.6,189.9 L310.2,197.5 L310.8,190.9 L311.4,190.3 L312.1,193.3 L312.7,191.7 L313.3,194.9 L313.9,192.5 L314.5,196.8 L315.2,192.9 L315.8,199.8 L316.4,194.4 L317.0,198.7 L317.6,193.8 L318.3,196.5 L318.9,194.9 L319.5,197.8 L320.1,193.8 L320.7,194.0 L321.4,197.3 L322.0,196.1 L322.6,194.6 L323.2,197.9 L323.8,194.2 L324.5,198.2 L325.1,197.6 L325.7,195.5 L326.3,198.2 L326.9,194.9 L327.6,198.9 L328.2,196.8 L328.8,198.5 L329.4,196.8 L330.0,199.1 L330.7,196.0 L331.3,197.5 L331.9,198.1 L332.5,195.9 L333.1,198.3 L333.8,196.8 L334.4,196.5 L335.0,197.6 L335.6,198.4 L336.2,196.2 L336.9,199.9 L337.5,198.4 L338.1,199.8 L338.7,197.1 L339.3,196.5 L340.0,196.8 L340.6,200.2 L341.2,196.8 L341.8,200.4 L342.4,197.1 L343.1,200.9 L343.7,197.8 L344.3,200.8 L344.9,198.0 L345.5,200.0 L346.2,199.7 L346.8,201.7 L347.4,200.1 L348.0,201.6 L348.6,199.5 L349.3,201.4 L349.9,201.1 L350.5,199.5 L351.1,201.8 L351.7,200.0 L352.4,201.2 L353.0,199.6 L353.6,200.9 L354.2,200.3 L354.8,202.7 L355.5,202.7 L356.1,199.4 L356.7,203.0 L357.3,202.1 L357.9,198.7 L358.6,198.8 L359.2,203.4 L359.8,198.5 L360.4,200.7 L361.0,200.1 L361.7,201.5 L362.3,203.6 L362.9,200.5 L363.5,202.6 L364.1,199.7 L364.8,203.7 L365.4,199.5 L366.0,201.8 L366.6,201.5 L367.2,199.6 L367.9,202.4 L368.5,199.0 L369.1,199.6 L369.7,204.4 L370.3,201.3 L371.0,199.6 L371.6,202.9 L372.2,199.2 L372.8,202.5 L373.4,203.2 L374.1,200.3 L374.7,202.7 L375.3,200.6 L375.9,204.7 L376.5,200.9 L377.2,203.4 L377.8,203.1 L378.4,205.2 L379.0,203.5 L379.6,201.7 L380.3,205.2 L380.9,203.3 L381.5,204.2 L382.1,203.0 L382.7,204.7 L383.4,202.0 L384.0,204.2 L384.6,202.0 L385.2,205.2 L385.8,202.0 L386.5,201.2 L387.1,202.3 L387.7,206.1 L388.3,197.5 L388.9,204.0 L389.6,197.9 L390.2,204.7 L390.8,203.9 L391.4,199.9 L392.0,203.4 L392.7,199.3 L393.3,204.1 L393.9,199.3 L394.5,202.8 L395.1,205.4 L395.8,205.7 L396.4,203.6 L397.0,205.1 L397.6,204.8 L398.2,203.9 L398.9,204.6 L399.5,206.3 L400.1,203.9 L400.7,205.3 L401.3,205.2 L402.0,205.6 L402.6,204.6 L403.2,205.7 L403.8,205.1 L404.4,206.7 L405.1,204.8 L405.7,207.1 L406.3,205.5 L406.9,207.8 L407.5,205.7 L408.2,208.0 L408.8,206.1 L409.4,208.6 L410.0,205.4 L410.6,208.1 L411.3,205.0 L411.9,209.0 L412.5,209.5 L413.1,205.3 L413.7,209.7 L414.4,208.3 L415.0,205.6 L415.6,209.1 L416.2,211.1 L416.8,210.5 L417.5,210.7 L418.1,206.2 L418.7,211.5 L419.3,210.0 L419.9,205.6 L420.6,211.0 L421.2,205.8 L421.8,206.8 L422.4,211.7 L423.0,209.7 L423.7,206.0 L424.3,208.6 L424.9,211.0 L425.5,208.5 L426.1,209.4 L426.8,208.0 L427.4,210.0 L428.0,211.4 L428.6,208.1 L429.2,212.0 L429.9,206.8 L430.5,212.2 L431.1,210.4 L431.7,205.7 L432.3,210.3 L433.0,208.3 L433.6,211.0 L434.2,207.6 L434.8,211.7 L435.4,207.2 L436.1,211.6 L436.7,206.7 L437.3,211.5 L437.9,208.7 L438.5,211.8 L439.2,208.0 L439.8,212.8 L440.4,207.3 L441.0,212.1 L441.6,208.8 L442.3,211.6 L442.9,208.5 L443.5,212.7 L444.1,210.5 L444.7,210.1 L445.4,209.7 L446.0,208.2 L446.6,209.0 L447.2,211.5 L447.8,212.1 L448.5,208.4 L449.1,212.3 L449.7,210.8 L450.3,212.2 L450.9,213.4 L451.6,208.7 L452.2,213.5 L452.8,208.6 L453.4,208.7 L454.0,210.3 L454.7,208.8 L455.3,214.9 L455.9,210.2 L456.5,212.6 L457.1,213.9 L457.8,215.3 L458.4,210.4 L459.0,213.2 L459.6,212.2 L460.2,215.1 L460.9,209.9 L461.5,213.8 L462.1,211.5 L462.7,210.7 L463.3,214.5 L464.0,209.7 L464.6,216.0 L465.2,210.8 L465.8,210.5 L466.4,216.0 L467.1,211.1 L467.7,216.2 L468.3,209.4 L468.9,216.0 L469.5,210.7 L470.2,214.6 L470.8,216.1 L471.4,209.5 L472.0,216.1 L472.6,213.3 L473.3,209.9 L473.9,216.0 L474.5,210.4 L475.1,214.3 L475.7,212.1 L476.4,209.4 L477.0,215.9 L477.6,209.8 L478.2,215.7 L478.8,209.5 L479.5,212.9 L480.1,210.3 L480.7,214.4 L481.3,212.3 L481.9,214.5 L482.6,214.6 L483.2,212.8 L483.8,212.3 L484.4,213.8 L485.0,213.3 L485.7,214.3 L486.3,213.2 L486.9,214.3 L487.5,214.2 L488.1,213.7 L488.8,214.4 L489.4,213.9 L490.0,214.7 L490.6,214.2 L491.2,214.4 L491.9,214.0 L492.5,214.3 L493.1,214.7 L493.7,214.5 L494.3,214.3 L495.0,215.0 L495.6,215.0 L496.2,215.2 L496.8,215.1 L497.4,214.6 L498.1,215.3 L498.7,214.6 L499.3,214.6 L499.9,215.6 L500.5,215.6 L501.2,214.9 L501.8,215.6 L502.4,215.1 L503.0,215.5 L503.6,215.1 L504.3,215.2 L504.9,215.4 L505.5,215.4 L506.1,215.5 L506.7,215.7 L507.4,215.6 L508.0,215.7 L508.6,215.7 L509.2,215.8 L509.8,215.8 L510.5,215.9 L511.1,215.9 L511.7,216.0 L512.3,216.0 L512.9,216.1 L513.6,216.1 L514.2,216.1 L514.8,216.2 L515.4,216.2 L516.0,216.3 L516.7,216.3 L517.3,216.4 L517.9,216.4 L518.5,216.4 L519.1,216.5 L519.8,216.5 L520.4,216.6 L521.0,216.6 L521.6,216.7 L522.2,216.7 L522.9,216.7 L523.5,216.8 L524.1,216.8 L524.7,216.9 L525.3,216.9 L526.0,217.0 L526.6,217.0 L527.2,217.1 L527.8,217.1 L528.4,217.1 L529.1,217.2 L529.7,217.2 L530.3,217.3 L530.9,217.3 L531.5,217.4 L532.2,217.4 L532.8,217.4 L533.4,217.5 L534.0,217.5 L534.6,217.6 L535.3,217.6 L535.9,217.7 L536.5,217.7 L537.1,217.7 L537.7,217.8 L538.4,217.8 L539.0,217.9 L539.6,217.9 L540.2,218.0 L540.8,218.1 L541.5,218.1 L542.1,218.2 L542.7,218.3 L543.3,218.4 L543.9,218.5 L544.6,218.6 L545.2,220.0 L545.8,214.1 L546.4,218.9 L547.0,211.6 L547.7,220.2 L548.3,215.6 L548.9,219.3 L549.5,212.6 L550.1,214.3 L550.8,218.0 L551.4,218.9 L552.0,218.9 L552.6,218.9 L553.2,218.9 L553.9,218.9 L554.5,218.9 L555.1,218.9 L555.7,218.9 L556.3,218.9 L557.0,218.9 L557.6,218.9 L558.2,218.9 L558.8,218.9 L559.4,218.9 L560.1,219.0 L560.7,219.0 L561.3,219.1 L561.9,219.1 L562.5,219.2 L563.2,219.2 L563.8,219.3 L564.4,219.3 L565.0,219.4 L565.6,219.4 L566.3,219.5 L566.9,219.5 L567.5,219.6 L568.1,219.6 L568.7,219.7 L569.4,219.7 L570.0,219.8 L570.6,219.8 L571.2,219.8 L571.8,219.9 L572.5,219.9 L573.1,220.0 L573.7,220.0 L574.3,220.1 L574.9,220.1 L575.6,220.2 L576.2,220.2 L576.8,220.3 L577.4,220.3 L578.0,220.4 L578.7,220.4 L579.3,220.5 L579.9,220.5 L580.5,220.6 L581.1,220.6 L581.8,220.7 L582.4,220.7 L583.0,220.7 L583.6,220.8 L584.2,220.8 L584.9,220.8 L585.5,220.8 L586.1,220.9 L586.7,220.9 L587.3,220.9 L588.0,221.0 L588.6,221.0 L589.2,221.0 L589.8,221.0 L590.4,221.1 L591.1,221.1 L591.7,221.1 L592.3,221.2 L592.9,221.2 L593.5,221.2 L594.2,221.2 L594.8,221.3 L595.4,221.3 L596.0,221.3 L596.6,221.3 L597.3,221.8 L597.9,221.7 L598.5,215.3 L599.1,219.7 L599.7,216.8 L600.4,224.7 L601.0,222.0 L601.6,224.0 L602.2,216.1 L602.8,220.6 L603.5,218.7 L604.1,222.6 L604.7,223.0 L605.3,222.8 L605.9,223.4 L606.6,222.6 L607.2,223.3 L607.8,222.9 L608.4,223.4 L609.0,223.2 L609.7,223.1 L610.3,222.8 L610.9,222.9 L611.5,222.8 L612.1,222.8 L612.8,222.9 L613.4,222.9 L614.0,222.9 L614.6,223.0 L615.2,223.0 L615.9,223.1 L616.5,223.1 L617.1,223.2 L617.7,223.2 L618.3,223.3 L619.0,223.3 L619.6,223.3 L620.2,223.4 L620.8,223.4 L621.4,223.5 L622.1,223.5 L622.7,223.6 L623.3,223.6 L623.9,223.7 L624.5,223.7 L625.2,223.8 L625.8,223.8 L626.4,223.8 L627.0,223.8 L627.6,223.9 L628.3,224.0 L628.9,224.0 L629.5,224.1 L630.1,224.0 L630.7,224.2 L631.4,224.3 L632.0,224.3 L632.6,224.2 L633.2,224.4 L633.8,224.3 L634.5,224.6 L635.1,224.5 L635.7,224.4 L636.3,224.6 L636.9,224.7 L637.6,224.8 L638.2,224.6 L638.8,225.0 L639.4,224.7 L640.0,225.0 L640.7,225.1 L641.3,224.7 L641.9,225.2 L642.5,224.8 L643.1,224.7 L643.8,225.3 L644.4,224.9 L645.0,224.9 L645.6,225.2 L646.2,225.5 L646.9,225.7 L647.5,225.5 L648.1,225.0 L648.7,225.4 L649.3,225.7 L650.0,225.8 L650.6,225.3 L651.2,225.4 L651.8,225.7 L652.4,225.4 L653.1,225.9 L653.7,225.8 L654.3,225.9 L654.9,225.9 L655.5,225.8 L656.2,225.9 L656.8,225.9 L657.4,226.0 L658.0,226.0 L658.6,226.0 L659.3,226.1 L659.9,226.1 L660.5,226.2 L661.1,226.2 L661.7,226.2 L662.4,226.3 L663.0,226.3 L663.6,226.4 L664.2,226.4 L664.8,226.4 L665.5,226.5 L666.1,226.5 L666.7,226.6 L667.3,226.6 L667.9,226.6 L668.6,226.7 L669.2,226.7 L669.8,226.7 L670.4,226.8 L671.0,226.8 L671.7,226.9 L672.3,226.9 L672.9,226.9 L673.5,227.0 L674.1,227.0 L674.8,227.1 L675.4,227.1 L676.0,227.1 L676.6,227.2 L677.2,227.2 L677.9,227.2 L678.5,227.3 L679.1,227.3 L679.7,227.4 L680.3,227.4 L681.0,227.4 L681.6,227.5 L682.2,227.5 L682.8,227.6 L683.4,227.6 L684.1,227.6 L684.7,227.7 L685.3,227.7 L685.9,227.7 L686.5,227.8 L687.2,227.8 L687.8,227.9 L688.4,227.9 L689.0,227.9 L689.6,228.0 L690.3,228.0 L690.9,228.1 L691.5,228.1 L692.1,228.1 L692.7,228.2 L693.4,228.2 L694.0,228.2 L694.6,228.3 L695.2,228.3 L695.8,228.4 L696.5,228.4 L697.1,228.4 L697.7,228.5 L698.3,228.5 L698.9,229.7 L699.6,226.3 L700.2,224.7 L700.8,230.0 L701.4,224.7 L702.0,228.2 L702.7,224.7 L703.3,228.7 L703.9,228.7 L704.5,228.7 L705.1,228.7 L705.8,228.8 L706.4,228.8 L707.0,228.8 L707.6,228.8 L708.2,228.9 L708.9,228.9 L709.5,228.9 L710.1,228.9 L710.7,229.0 L711.3,229.0 L712.0,229.0 L712.6,229.1 L713.2,229.1 L713.8,229.1 L714.4,229.1 L715.1,229.2 L715.7,229.2 L716.3,229.2 L716.9,229.2 L717.5,229.3 L718.2,229.3 L718.8,229.3 L719.4,229.3 L720.0,229.4 L720.6,229.4 L721.3,229.4 L721.9,229.4 L722.5,229.5 L723.1,229.5 L723.7,229.5 L724.4,229.6 L725.0,229.6 L725.6,229.6 L726.2,229.7 L726.8,229.7 L727.5,229.7 L728.1,229.8 L728.7,229.8 L729.3,229.8 L729.9,229.9 L730.6,229.9 L731.2,229.9 L731.8,230.0 L732.4,230.0 L733.0,230.0 L733.7,230.1 L734.3,230.1 L734.9,230.1 L735.5,230.2 L736.1,230.2 L736.8,230.2 L737.4,230.3 L738.0,230.3 L738.6,230.3 L739.2,230.4 L739.9,230.4 L740.5,230.4 L741.1,230.5 L741.7,230.5 L742.3,230.5 L743.0,230.6 L743.6,230.6 L744.2,230.6 L744.8,230.7 L745.4,230.7 L746.1,230.7 L746.7,230.8 L747.3,230.8 L747.9,230.8 L748.5,230.9 L749.2,230.9 L749.8,230.9 L750.4,231.0 L751.0,231.0 L751.6,231.0 L752.3,231.1 L752.9,231.1 L753.5,231.2 L754.1,231.2 L754.7,231.2 L755.4,231.3 L756.0,231.3 L756.6,231.3 L757.2,231.4 L757.8,231.4 L758.5,231.4 L759.1,231.5 L759.7,231.5 L760.3,231.6 L760.9,231.6 L761.6,231.6 L762.2,231.7 L762.8,231.7 L763.4,231.7 L764.0,231.8 L764.7,231.8 L765.3,231.8 L765.9,231.9 L766.5,231.9 L767.1,232.0 L767.8,232.0 L768.4,232.0 L769.0,232.1 L769.6,232.1 L770.2,232.1 L770.9,232.2 L771.5,232.2 L772.1,232.2 L772.7,232.3 L773.3,232.3 L774.0,232.4 L774.6,232.4 L775.2,232.5 L775.8,232.5 L776.4,232.5 L777.1,232.6 L777.7,232.6 L778.3,232.7 L778.9,232.7 L779.5,232.8 L780.2,232.8 L780.8,232.8 L781.4,232.9 L782.0,232.9 L782.6,233.0 L783.3,233.0 L783.9,233.1 L784.5,233.1 L785.1,233.1" stroke="#00f"/>
<path d="M149.9,167.9 L153.7,159.2 L157.5,167.9 Z M226.6,178.7 L229.3,174.0 L232.0,178.7 Z M228.9,179.4 L232.3,172.3 L235.7,179.4 Z M231.8,180.0 L234.7,174.7 L237.6,180.0 Z M240.5,181.6 L243.7,175.3 L246.9,181.6 Z M270.0,188.8 L272.7,184.3 L275.4,188.8 Z M324.6,195.9 L328.4,183.5 L332.2,195.9 Z M359.9,200.1 L362.4,196.1 L364.9,200.1 Z M380.9,202.6 L383.5,198.3 L386.1,202.6 Z M412.8,206.7 L416.6,196.3 L420.4,206.7 Z M416.3,207.0 L419.6,200.1 L422.9,207.0 Z M432.2,207.8 L434.7,203.7 L437.2,207.8 Z M440.4,209.1 L443.7,202.3 L447.0,209.1 Z M449.6,210.0 L452.2,205.9 L454.8,210.0 Z M458.8,210.6 L461.6,205.5 L464.4,210.6 Z M469.1,210.8 L471.4,207.7 L473.7,210.8 Z M605.5,221.9 L608.4,216.7 L611.3,221.9 Z M724.0,228.9 L727.1,222.7 L730.2,228.9 Z M639.7,223.9 L641.9,221.0 L644.1,223.9 Z M444.7,209.6 L447.2,205.8 L449.7,209.6 Z M506.7,215.0 L508.9,212.3 L511.0,215.0 Z M572.9,219.2 L575.0,216.7 L577.1,219.2 Z M594.9,215.8 L597.4,212.0 L599.9,215.8 Z M675.0,226.4 L677.4,222.8 L679.8,226.4 Z M717.2,228.6 L719.6,224.9 L722.1,228.6 Z M731.5,229.2 L734.0,225.4 L736.5,229.2 Z M751.7,230.3 L753.9,227.5 L756.1,230.3 Z M763.9,231.1 L766.4,227.3 L768.8,231.1 Z M142.8,170.3 L145.5,165.5 L148.3,170.3 Z M160.3,170.6 L162.5,168.0 L164.6,170.6 Z M172.7,167.3 L174.8,164.7 L176.9,167.3 Z M178.0,168.9 L180.1,166.3 L182.3,168.9 Z M190.4,170.9 L192.5,168.3 L194.6,170.9 Z M197.2,172.4 L199.6,168.7 L202.0,172.4 Z M212.2,179.1 L214.5,176.0 L216.7,179.1 Z M220.1,176.5 L222.4,173.3 L224.7,176.5 Z M245.9,183.4 L248.2,180.1 L250.5,183.4 Z M258.5,184.9 L260.9,181.3 L263.3,184.9 Z M266.4,185.7 L268.5,183.0 L270.6,185.7 Z M304.1,190.8 L306.7,186.6 L309.2,190.8 Z M310.6,191.4 L312.7,188.9 L314.7,191.4 Z M174.8,175.6 L178.4,183.6 L182.0,175.6 Z M233.8,185.3 L237.1,192.2 L240.4,185.3 Z M245.6,187.9 L248.5,193.4 L251.4,187.9 Z M259.7,189.5 L263.0,196.4 L266.3,189.5 Z M262.1,189.7 L265.4,196.4 L268.7,189.7 Z M286.3,194.1 L288.9,198.2 L291.5,194.1 Z M324.9,197.9 L327.5,202.2 L330.1,197.9 Z M351.1,201.8 L354.0,207.0 L356.9,201.8 Z M359.6,202.5 L362.4,207.6 L365.2,202.5 Z M364.9,203.0 L367.8,208.2 L370.7,203.0 Z M380.4,204.6 L383.5,210.6 L386.6,204.6 Z M387.4,204.8 L390.1,209.4 L392.8,204.8 Z M416.7,210.0 L419.6,215.5 L422.5,210.0 Z M429.7,210.8 L432.9,217.2 L436.1,210.8 Z M474.1,214.2 L476.9,219.2 L479.7,214.2 Z M602.0,223.9 L604.9,229.3 L607.8,223.9 Z M750.5,232.0 L753.0,236.0 L755.5,232.0 Z M144.5,174.1 L147.3,178.8 L150.0,174.1 Z M148.5,174.2 L151.4,179.5 L154.3,174.2 Z M153.1,177.0 L155.5,180.6 L157.9,177.0 Z M156.5,177.6 L159.1,181.7 L161.6,177.6 Z M160.5,176.3 L163.0,180.1 L165.4,176.3 Z M167.8,174.8 L170.3,178.9 L172.9,174.8 Z M188.1,179.0 L191.0,184.3 L193.9,179.0 Z M196.3,181.5 L198.5,184.3 L200.6,181.5 Z M200.4,181.6 L203.3,186.9 L206.2,181.6 Z M204.2,182.2 L206.8,186.3 L209.3,182.2 Z M224.0,183.5 L226.1,186.0 L228.2,183.5 Z M254.8,189.0 L257.6,194.3 L260.5,189.0 Z M270.4,190.6 L273.3,195.9 L276.1,190.6 Z M274.6,191.7 L276.8,194.6 L279.0,191.7 Z M298.6,196.4 L301.5,201.7 L304.4,196.4 Z M306.8,196.0 L309.1,199.1 L311.3,196.0 Z M311.2,197.5 L313.5,200.9 L315.9,197.5 Z M315.7,198.0 L318.1,201.4 L320.5,198.0 Z M330.6,198.9 L332.8,201.6 L334.9,198.9 Z M335.9,199.9 L338.6,204.5 L341.3,199.9 Z M347.4,201.3 L349.5,204.1 L351.7,201.3 Z M371.9,203.7 L374.4,207.8 L377.0,203.7 Z M374.7,204.2 L377.6,209.5 L380.5,204.2 Z M394.5,205.5 L396.6,208.1 L398.7,205.5 Z" fill="#00f" stroke="none"/>
</g>
<rect x="522.3" y="46" width="246" height="136" fill="#fff"/>
<g fill="none" stroke-width="5.70">
<path d="M678.4,62.85 H754" stroke="#f00" stroke-dasharray="13.4 20.25"/>
<path d="M678.4,97.00 H754" stroke="#f00"/>
<path d="M678.4,131.20 H754" stroke="#00f" stroke-dasharray="13.4 20.25"/>
<path d="M678.4,165.40 H754" stroke="#00f"/>
</g>
<g stroke="#000" stroke-width="2.1" fill="none" stroke-linecap="butt">
<path d="M120.60,32.20 H785.00 V472.20 H120.60 Z"/>
</g>
<g font-family="'Liberation Sans', sans-serif" font-size="26.67" fill="#000" stroke="#000" stroke-width="0.22" style="font-kerning:none">
<text transform="translate(105.20 483.10) scale(1.030 1.075)" text-anchor="end">0</text>
<text transform="translate(105.20 409.87) scale(1.030 1.075)" text-anchor="end">2</text>
<text transform="translate(105.20 336.03) scale(1.030 1.075)" text-anchor="end">4</text>
<text transform="translate(105.20 262.70) scale(1.030 1.075)" text-anchor="end">6</text>
<text transform="translate(105.20 190.17) scale(1.030 1.075)" text-anchor="end">8</text>
<text transform="translate(105.20 116.43) scale(1.030 1.075)" text-anchor="end">10</text>
<text transform="translate(105.20 42.50) scale(1.030 1.075)" text-anchor="end">12</text>
<text transform="translate(124.00 517.60) scale(1.030 1.075)" text-anchor="middle">0</text>
<text transform="translate(256.88 517.60) scale(1.030 1.075)" text-anchor="middle">0.01</text>
<text transform="translate(389.76 517.60) scale(1.030 1.075)" text-anchor="middle">0.02</text>
<text transform="translate(522.64 517.60) scale(1.030 1.075)" text-anchor="middle">0.03</text>
<text transform="translate(655.52 517.60) scale(1.030 1.075)" text-anchor="middle">0.04</text>
<text transform="translate(788.40 517.60) scale(1.030 1.075)" text-anchor="middle">0.05</text>
<text transform="translate(411.75 568.30) scale(1.030 1.015)">time</text>
<text transform="translate(463.65 568.30) scale(1.030 1.000)">[</text>
<text transform="translate(471.28 568.30) scale(1.030 1.015)">s</text>
<text transform="translate(485.02 568.30) scale(1.030 1.000)">]</text>
<g transform="translate(36.4,387.4) rotate(-90)">
<text transform="translate(0.00 0.00) scale(1.030 1.075)">L</text>
<text transform="translate(15.28 0.00) scale(1.030 1.015)">uminosity</text>
<text transform="translate(131.30 0.00) scale(1.030 1.000)">[</text>
<text transform="translate(138.93 0.00) scale(1.030 1.075)">10</text>
<text transform="translate(169.49 -11.20) scale(1.030 1.030)" font-size="21.33">51</text>
<text transform="translate(193.93 0.00) scale(1.030 1.015)"> erg/s</text>
<text transform="translate(262.63 0.00) scale(1.030 1.000)">]</text>
</g>
<text transform="translate(523.80 73.30) scale(1.030 1.075)">L</text>
<text transform="translate(540.20 79.20) scale(1.030 1.030)" font-size="21.33" font-style="italic">ν</text>
<text transform="translate(552.20 84.20) scale(1.030 1.030)" font-size="17.07">e</text>
<text transform="translate(570.90 73.30) scale(1.030 1.075)">ALCAR</text>
<text transform="translate(523.80 107.40) scale(1.030 1.075)">L</text>
<text transform="translate(540.20 113.30) scale(1.030 1.030)" font-size="21.33" font-style="italic">ν</text>
<text transform="translate(552.20 118.30) scale(1.030 1.030)" font-size="17.07">e</text>
<text transform="translate(569.80 107.40) scale(1.030 1.075)">ILEAS</text>
<text transform="translate(523.80 141.50) scale(1.030 1.075)">L</text>
<text transform="translate(540.20 147.40) scale(1.030 1.030)" font-size="21.33" font-style="italic">ν</text>
<text transform="translate(550.80 152.40) scale(1.030 1.030)" font-size="17.07">e</text>
<text transform="translate(569.50 141.50) scale(1.030 1.075)">ALCAR</text>
<path d="M539.5,132.00 h11.3" stroke="#000" stroke-width="1.6" fill="none"/>
<text transform="translate(523.80 175.60) scale(1.030 1.075)">L</text>
<text transform="translate(540.20 181.50) scale(1.030 1.030)" font-size="21.33" font-style="italic">ν</text>
<text transform="translate(550.80 186.50) scale(1.030 1.030)" font-size="17.07">e</text>
<text transform="translate(575.70 175.60) scale(1.030 1.075)">ILEAS</text>
<path d="M539.5,166.10 h11.3" stroke="#000" stroke-width="1.6" fill="none"/>
</g>
</svg>
</body></html>
